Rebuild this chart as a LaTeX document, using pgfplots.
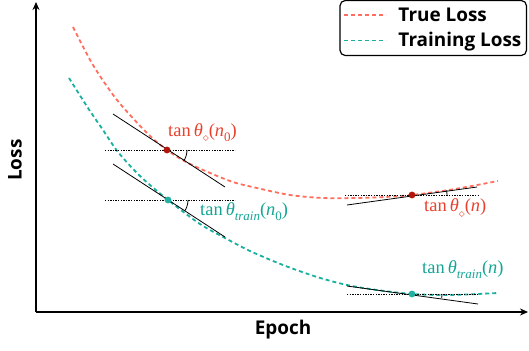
\documentclass[border=0pt]{standalone}
\usepackage{fontspec}
\setsansfont{Open Sans}
\newfontfamily\lserif{Liberation Serif}
\usepackage{pgfplots}
\pgfplotsset{compat=1.18}
\usetikzlibrary{arrows.meta}
\definecolor{truered}{HTML}{FF6E5E}
\definecolor{trainteal}{HTML}{1AB0A0}
\definecolor{labred}{HTML}{E8412C}
\definecolor{labteal}{HTML}{14A595}
\definecolor{ptred}{HTML}{B3150B}
\definecolor{ptteal}{HTML}{22B0A3}
\newcommand{\tanlab}[2]{{\lserif tan\,\textit{θ}\raisebox{-0.28em}{\fontsize{13}{13}\selectfont #1}(\textit{n}\raisebox{-0.28em}{\fontsize{13}{13}\selectfont #2})}}
\begin{document}
\begin{tikzpicture}
\begin{axis}[
  x=1bp, y=1bp,
  xmin=0, xmax=492, ymin=0, ymax=310,
  axis lines=left,
  axis line style={line width=1.6bp, -{Stealth[length=8bp,width=7bp]}},
  xtick=\empty, ytick=\empty,
  clip=false,
  xlabel={Epoch},
  ylabel={Loss},
  label style={font=\sffamily\bfseries\fontsize{19}{22}\selectfont},
  xlabel style={at={(axis description cs:0.502,-0.058)}, anchor=center},
  ylabel style={at={(axis description cs:-0.043,0.49)}, anchor=center},
  legend cell align=left,
  legend style={at={(axis description cs:0.998,1.0065)}, anchor=north east,
    draw=black, line width=1.2bp, rounded corners=5bp,
    font=\sffamily\bfseries\fontsize{19}{22}\selectfont,
    inner xsep=3bp, inner ysep=5bp, row sep=6bp,
    /tikz/every odd column/.append style={column sep=10bp}},
  legend image code/.code={\draw[#1, sharp corners, line width=1.4bp] (0bp,0bp) -- (42bp,0bp);},
]
\addplot[truered, line width=1.8bp, dash pattern=on 4bp off 3bp, smooth] coordinates {
(37,285) (57,247) (81,212) (111,179) (131,162) (154,148) (194,131) (221,124) (254,117)
(287,114) (321,114) (349,115) (376,117) (419,123) (462,131)};
\addlegendentry{True Loss}
\addplot[trainteal, line width=1.8bp, dash pattern=on 4bp off 3bp, smooth] coordinates {
(33,234) (52,204) (67,182) (82,160) (104,136) (132,112) (164,88) (189,74) (214,61)
(247,47) (281,35) (311,27) (341,22) (376,18) (414,17) (462,19)};
\addlegendentry{Training Loss}
% tangent lines
\addplot[black, line width=0.8bp, forget plot] coordinates {(77,198) (189,125)};
\addplot[black, line width=0.8bp, forget plot] coordinates {(77,148) (189,75)};
\addplot[black, line width=0.8bp, forget plot] coordinates {(311,107) (441,125)};
\addplot[black, line width=0.8bp, forget plot] coordinates {(311,26) (442,8)};
% horizontal dotted
\addplot[black, line width=0.7bp, dash pattern=on 1.3bp off 1.3bp, forget plot] coordinates {(69,162) (199,162)};
\addplot[black, line width=0.7bp, dash pattern=on 1.3bp off 1.3bp, forget plot] coordinates {(69,112) (199,112)};
\addplot[black, line width=0.7bp, dash pattern=on 1.3bp off 1.3bp, forget plot] coordinates {(309,117) (442,117)};
\addplot[black, line width=0.7bp, dash pattern=on 1.3bp off 1.3bp, forget plot] coordinates {(311,18) (442,18)};
% points
\addplot[only marks, mark=*, mark size=3.2bp, ptred, forget plot] coordinates {(131,162) (376,117)};
\addplot[only marks, mark=*, mark size=3.2bp, ptteal, forget plot] coordinates {(132,112) (376,18)};
% arcs
\draw[black, line width=0.8bp] (axis cs:151,162) arc[start angle=0, end angle=-33, radius=20bp];
\draw[black, line width=0.8bp] (axis cs:152,112) arc[start angle=0, end angle=-33, radius=20bp];
\draw[black, line width=0.8bp] (axis cs:411,117) arc[start angle=0, end angle=8, radius=35bp];
\draw[black, line width=0.8bp] (axis cs:406,18) arc[start angle=0, end angle=-8, radius=30bp];
% labels
\node[anchor=west, text=labred, font=\fontsize{18.5}{20}\selectfont, inner sep=0] at (axis cs:132,179) {\tanlab{$\diamond$}{0}};
\node[anchor=west, text=labteal, font=\fontsize{18.5}{20}\selectfont, inner sep=0] at (axis cs:164,100) {\tanlab{\textit{train}}{0}};
\node[anchor=west, text=labred, font=\fontsize{18.5}{20}\selectfont, inner sep=0] at (axis cs:388,104) {\tanlab{$\diamond$}{}};
\node[anchor=west, text=labteal, font=\fontsize{18.5}{20}\selectfont, inner sep=0] at (axis cs:386,42) {\tanlab{\textit{train}}{}};
\coordinate (bl) at (axis cs:-36,-38);
\coordinate (tr) at (axis cs:493,312);
\end{axis}
\pgfresetboundingbox
\path (bl) rectangle (tr);
\end{tikzpicture}
\end{document}
